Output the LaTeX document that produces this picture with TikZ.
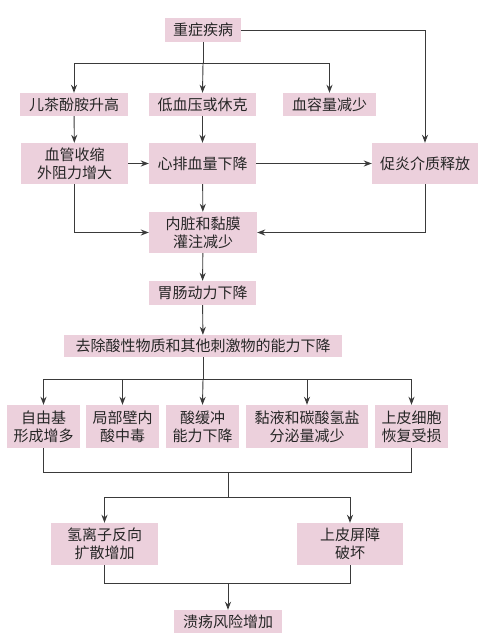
\documentclass[tikz,border=0pt]{standalone}
\usepackage{fontspec}
\usetikzlibrary{arrows.meta}
\newfontfamily\cjk{Noto Sans CJK SC}
\definecolor{boxpink}{HTML}{ECD0DC}
\definecolor{linegray}{HTML}{3A3A3A}
\tikzset{
  bx/.style={fill=boxpink, draw=none, inner sep=0pt, align=center,
    font=\cjk\fontsize{15}{18}\selectfont, text=black!85},
  ln/.style={draw=linegray, line width=0.9pt},
  arr/.style={ln, -{Stealth[length=8pt,width=6pt]}}
}
\begin{document}
\begin{tikzpicture}[x=1pt,y=-1pt]
\useasboundingbox (0,0) rectangle (484,640);
\fill[white] (0,0) rectangle (484,640);
% nodes
\node[bx, minimum width=76pt, minimum height=24pt] (n1) at (203,30) {重症疾病};
\node[bx, minimum width=108pt, minimum height=23pt] (a) at (74,104.5) {儿茶酚胺升高};
\node[bx, minimum width=107pt, minimum height=23pt] (b) at (202.5,104.5) {低血压或休克};
\node[bx, minimum width=93pt, minimum height=23pt] (c) at (329.5,104.5) {血容量减少};
\node[bx, minimum width=107pt, minimum height=41pt] (d) at (74.5,163.5) {血管收缩\\外阻力增大};
\node[bx, minimum width=107pt, minimum height=41pt] (e) at (202.5,163.5) {心排血量下降};
\node[bx, minimum width=106pt, minimum height=41pt] (f) at (425,163.5) {促炎介质释放};
\node[bx, minimum width=108pt, minimum height=41pt] (g) at (203,232.5) {内脏和黏膜\\灌注减少};
\node[bx, minimum width=107pt, minimum height=24pt] (h) at (202.5,293) {胃肠动力下降};
\node[bx, minimum width=278pt, minimum height=22pt] (i) at (203,346) {去除酸性物质和其他刺激物的能力下降};
\node[bx, minimum width=73pt, minimum height=43pt] (j1) at (43.5,426.5) {自由基\\形成增多};
\node[bx, minimum width=73pt, minimum height=43pt] (j2) at (122.5,426.5) {局部壁内\\酸中毒};
\node[bx, minimum width=73pt, minimum height=43pt] (j3) at (202.5,426.5) {酸缓冲\\能力下降};
\node[bx, minimum width=122pt, minimum height=43pt] (j4) at (307,426.5) {黏液和碳酸氢盐\\分泌量减少};
\node[bx, minimum width=73pt, minimum height=43pt] (j5) at (411.5,426.5) {上皮细胞\\恢复受损};
\node[bx, minimum width=107pt, minimum height=42pt] (k1) at (104.5,544) {氢离子反向\\扩散增加};
\node[bx, minimum width=106pt, minimum height=42pt] (k2) at (350,544) {上皮屏障\\破坏};
\node[bx, minimum width=108pt, minimum height=23pt] (l) at (228,621.5) {溃疡风险增加};
% junctions
\coordinate (J1) at (203,63);
\coordinate (J2) at (203,379);
\coordinate (J3) at (228,472);
\coordinate (J4) at (228,497);
\coordinate (J5) at (228,583);
% connectors
\draw[arr] (n1.east) -| (f.north);
\draw[ln] (n1.south) -- (J1);
\draw[arr] (J1) -| (a.north);
\draw[arr] (J1) -- (b.north);
\draw[arr] (J1) -| (c.north);
\draw[arr] (a) -- (d);
\draw[arr] (b) -- (e);
\draw[arr] (d) -- (e);
\draw[arr] (e) -- (f);
\draw[arr] (d.south) |- (g.west);
\draw[arr] (f.south) |- (g.east);
\draw[arr] (e) -- (g);
\draw[arr] (g) -- (h);
\draw[arr] (h) -- (i);
\draw[ln] (i.south) -- (J2);
\draw[arr] (J2) -| (j1.north);
\draw[arr] (J2) -| (j2.north);
\draw[arr] (J2) -- (j3.north);
\draw[arr] (J2) -| (j4.north);
\draw[arr] (J2) -| (j5.north);
\draw[ln] (j1.south) |- (J3);
\draw[ln] (j5.south) |- (J3);
\draw[ln] (J3) -- (J4);
\draw[arr] (J4) -| (k1.north);
\draw[arr] (J4) -| (k2.north);
\draw[ln] (k1.south) |- (J5);
\draw[ln] (k2.south) |- (J5);
\draw[arr] (J5) -- (l.north);
\end{tikzpicture}
\end{document}
